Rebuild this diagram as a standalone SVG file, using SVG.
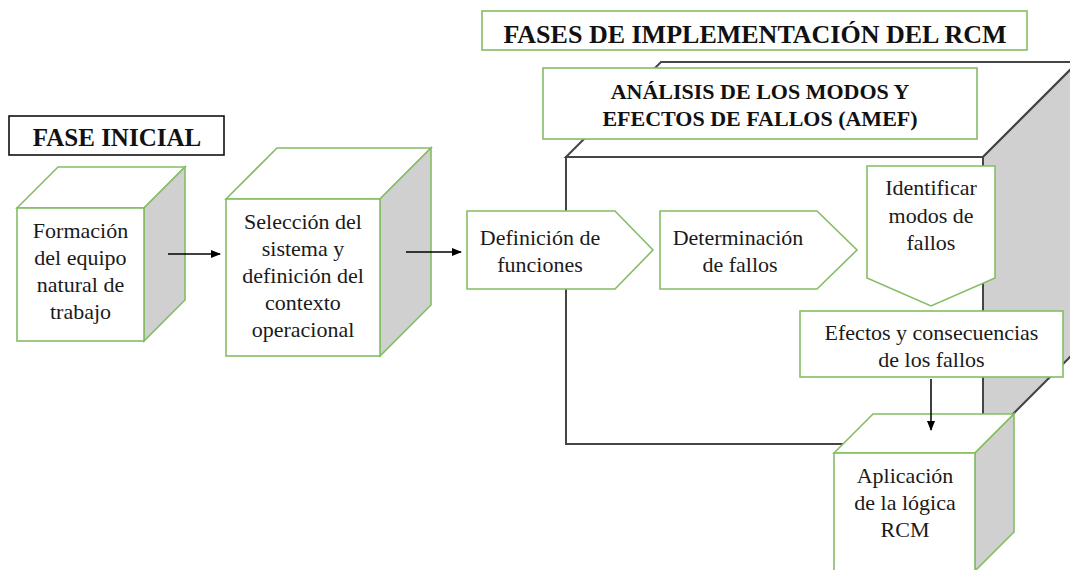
<svg xmlns="http://www.w3.org/2000/svg" width="1070" height="570" viewBox="0 0 1070 570">
<style>
.g{fill:#fff;stroke:#84bd63;stroke-width:1.6}
.gs{fill:#d0d0d0;stroke:#84bd63;stroke-width:1.6}
.bk{fill:#fff;stroke:#454545;stroke-width:2}
.bks{fill:#d0d0d0;stroke:#454545;stroke-width:2}
.t{font-size:22px;fill:#1a1a1a;text-anchor:middle}
.b{font-weight:bold;fill:#111;text-anchor:middle}
.ln{stroke:#000;stroke-width:1.5;fill:none}
</style>
<defs>
<marker id="ah" markerWidth="10" markerHeight="8" refX="9" refY="4" orient="auto" markerUnits="userSpaceOnUse">
<path d="M0,0 L10,4 L0,8 Z" fill="#000"/>
</marker>
</defs>
<rect width="1070" height="570" fill="#fff"/>
<g font-family="'Liberation Serif', 'Times New Roman', Times, serif">
<g id="title">
<rect x="482" y="11" width="545" height="39" class="g"/>
<text x="755" y="43" class="b" font-size="26">FASES DE IMPLEMENTACIÓN DEL RCM</text>
</g>

<g id="fase-inicial">
<rect x="9" y="116" width="215" height="39" fill="#fff" stroke="#111" stroke-width="1.6"/>
<text x="117" y="146" class="b" font-size="25">FASE INICIAL</text>
</g>

<g id="amef-cube">
<polygon points="566,157 661,62 1078,62 983,157" class="bk"/>
<polygon points="983,157 1078,62 1078,349 983,444" class="bks"/>
<rect x="566" y="157" width="417" height="287" class="bk"/>
</g>

<g id="amef-label">
<rect x="543" y="68" width="434" height="71" class="g"/>
<text x="760" y="99" class="b" font-size="22">ANÁLISIS DE LOS MODOS Y</text>
<text x="760" y="126" class="b" font-size="22">EFECTOS DE FALLOS (AMEF)</text>
</g>

<g id="formacion">
<polygon points="17,208 58,167 185,167 144,208" class="g"/>
<polygon points="144,208 185,167 185,300 144,341" class="gs"/>
<rect x="17" y="208" width="127" height="133" class="g"/>
<text class="t"><tspan x="80.5" y="238">Formación</tspan><tspan x="80.5" y="265">del equipo</tspan><tspan x="80.5" y="292">natural de</tspan><tspan x="80.5" y="319">trabajo</tspan></text>
</g>

<g id="seleccion">
<polygon points="226,199 277,148 431,148 380,199" class="g"/>
<polygon points="380,199 431,148 431,305 380,356" class="gs"/>
<rect x="226" y="199" width="154" height="157" class="g"/>
<text class="t"><tspan x="303" y="229">Selección del</tspan><tspan x="303" y="256">sistema y</tspan><tspan x="303" y="283">definición del</tspan><tspan x="303" y="310">contexto</tspan><tspan x="303" y="337">operacional</tspan></text>
</g>

<g id="definicion">
<polygon points="467,211 615,211 653,250 615,289 467,289" class="g"/>
<text class="t"><tspan x="540" y="245">Definición de</tspan><tspan x="540" y="272">funciones</tspan></text>
</g>

<g id="determinacion">
<polygon points="660,211 817,211 857,250 817,289 660,289" class="g"/>
<text class="t"><tspan x="738" y="245">Determinación</tspan><tspan x="740" y="272">de fallos</tspan></text>
</g>

<g id="identificar">
<polygon points="867,166 995,166 995,278 931,306 867,278" class="g"/>
<text class="t"><tspan x="931" y="195">Identificar</tspan><tspan x="931" y="223">modos de</tspan><tspan x="931" y="250">fallos</tspan></text>
</g>

<g id="efectos">
<rect x="800" y="311" width="263" height="66" class="g"/>
<text class="t"><tspan x="931.5" y="340">Efectos y consecuencias</tspan><tspan x="931.5" y="367">de los fallos</tspan></text>
</g>

<g id="aplicacion">
<polygon points="834,453 873,414 1014,414 975,453" class="g"/>
<polygon points="975,453 1014,414 1014,532 975,571" class="gs"/>
<rect x="834" y="453" width="141" height="118" class="g"/>
<text class="t"><tspan x="905" y="483">Aplicación</tspan><tspan x="905" y="510">de la lógica</tspan><tspan x="905" y="537">RCM</tspan></text>
</g>

<g id="connectors">
<line x1="168" y1="254" x2="220" y2="254" class="ln" marker-end="url(#ah)"/>
<line x1="406" y1="252" x2="461" y2="252" class="ln" marker-end="url(#ah)"/>
<line x1="931" y1="379" x2="931" y2="430" class="ln" marker-end="url(#ah)"/>
</g>
</g>
</svg>
